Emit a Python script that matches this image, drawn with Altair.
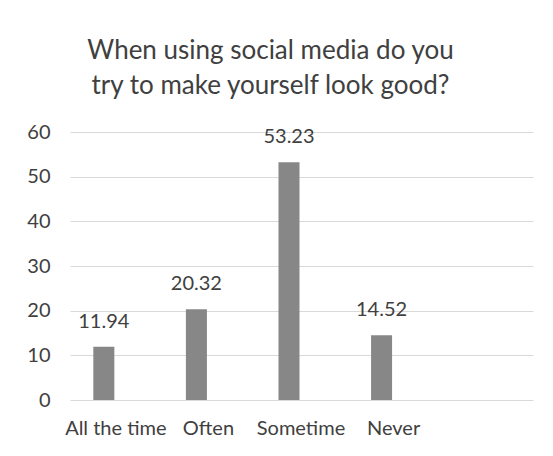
import altair as alt
import pandas as pd

categories = ["All the time", "Often", "Sometime", "Never"]
values = [11.94, 20.32, 53.23, 14.52]
y_ticks = [0, 10, 20, 30, 40, 50, 60]

df = pd.DataFrame({"cat": categories, "val": values})
df["lab"] = df["val"].map(lambda v: f"{v:.2f}")

FONT = "Lato"
TXT = "#404040"

x = alt.X(
    "cat:N",
    sort=categories,
    scale=alt.Scale(paddingInner=0.773, paddingOuter=0.887, align=0.142),
    axis=alt.Axis(
        title=None, labelAngle=0, ticks=False, domain=False, grid=False,
        labelFont=FONT, labelFontSize=20, labelColor=TXT,
        labelPadding=18, labelOffset=12,
    ),
)
y = alt.Y(
    "val:Q",
    scale=alt.Scale(domain=[0, 60], nice=False),
    axis=alt.Axis(
        title=None, values=y_ticks, ticks=False, domain=False,
        grid=True, gridColor="#d9d9d9", gridWidth=1,
        labelFont=FONT, labelFontSize=20, labelColor=TXT, labelPadding=20,
    ),
)

base = alt.Chart(df).encode(x=x, y=y)
bars = base.mark_bar(color="#878787")
labels = base.mark_text(
    font=FONT, fontSize=20, color=TXT, baseline="bottom", dy=-15
).encode(text="lab:N")

chart = (bars + labels).properties(
    width=463,
    height=268,
    autosize=alt.AutoSizeParams(type="none"),
    padding={"left": 62, "top": 124, "right": 12, "bottom": 50},
    title=alt.TitleParams(
        text=["When using social media do you", "try to make yourself look good?"],
        font=FONT, fontSize=26, fontWeight="normal", color=TXT,
        anchor="middle", frame="group", dx=-31, offset=23, lineHeight=35,
    ),
).configure(
    background="white",
).configure_view(
    stroke="transparent", strokeWidth=0,
).configure_axis(
    domain=False,
)

chart.save("out.html", embed_options={"renderer": "svg", "actions": False})
